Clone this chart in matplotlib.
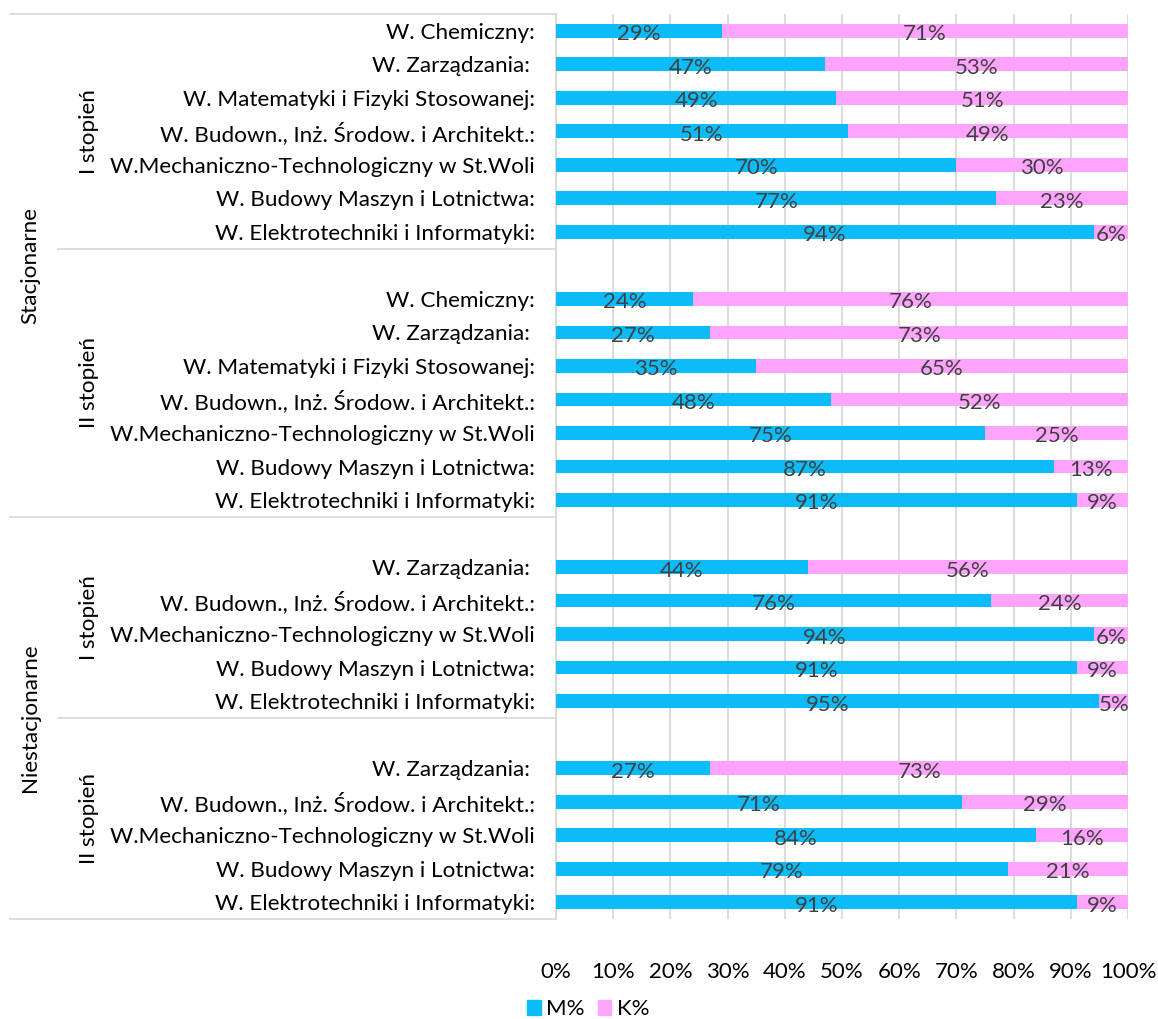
import matplotlib.pyplot as plt
import matplotlib.patches as mpatches
from matplotlib.transforms import blended_transform_factory
import numpy as np

plt.rcParams['font.family'] = ['Lato', 'DejaVu Sans']

# category labels per group (top to bottom), '' = empty slot in Excel
stac_1 = ["W. Chemiczny:", "W. Zarządzania: ", "W. Matematyki i Fizyki Stosowanej:",
          "W. Budown., Inż. Środow. i Architekt.:", "W.Mechaniczno-Technologiczny w St.Woli",
          "W. Budowy Maszyn i Lotnictwa:", "W. Elektrotechniki i Informatyki:"]
stac_2 = [""] + stac_1
nies_1 = ["", "W. Zarządzania: ", "W. Budown., Inż. Środow. i Architekt.:",
          "W.Mechaniczno-Technologiczny w St.Woli", "W. Budowy Maszyn i Lotnictwa:",
          "W. Elektrotechniki i Informatyki:"]
nies_2 = list(nies_1)

m_stac_1 = [29, 47, 49, 51, 70, 77, 94]
m_stac_2 = [None, 24, 27, 35, 48, 75, 87, 91]
m_nies_1 = [None, 44, 76, 94, 91, 95]
m_nies_2 = [None, 27, 71, 84, 79, 91]

groups_outer = ["Stacjonarne", "Niestacjonarne"]
groups_inner = ["I stopień", "II stopień", "I stopień", "II stopień"]

blue = "#0BBCF8"
pink = "#FFA4FD"
grid_c = "#D9D9D9"
lbl_c = "#404040"
fs = 16.2

labels = stac_1 + stac_2 + nies_1 + nies_2
m_vals = m_stac_1 + m_stac_2 + m_nies_1 + m_nies_2
sizes = [len(stac_1), len(stac_2), len(nies_1), len(nies_2)]

fig = plt.figure(figsize=(11.58, 10.19), dpi=100)
ax = fig.add_axes([556/1158, 1-919/1019, (1128-556)/1158, (919-14)/1019])

ypos = np.arange(len(labels))
mask = np.array([v is not None for v in m_vals])
m = np.array([v if v is not None else 0 for v in m_vals], dtype=float) / 100
k = 1 - m
bh = 0.41
bars_m = ax.barh(ypos[mask], m[mask], height=bh, color=blue, zorder=3)
bars_k = ax.barh(ypos[mask], k[mask], left=m[mask], height=bh, color=pink, zorder=3)

for bars, vals in ((bars_m, m[mask]), (bars_k, k[mask])):
    for r, v in zip(bars, vals):
        ax.annotate("%d%%" % round(v*100), (r.get_x()+r.get_width()/2, r.get_y()+r.get_height()/2),
                    xytext=(0, -2.5), textcoords='offset points', ha='center', va='center',
                    fontsize=16, color=lbl_c, zorder=4)

ax.set_ylim(len(labels)-0.5, -0.5)
ax.set_xlim(0, 1)
ax.set_yticks(ypos)
ax.set_yticklabels(labels, fontsize=fs, color='black')
ax.set_xticks(np.arange(0, 1.01, 0.1))
ax.set_xticklabels(["%d%%" % t for t in range(0, 101, 10)], fontsize=16, color='black')
ax.tick_params(axis='both', length=0)
ax.tick_params(axis='y', pad=15)
ax.tick_params(axis='x', pad=31)
ax.grid(axis='x', color=grid_c, linewidth=1.3, zorder=0)
for s in ['top', 'right', 'bottom']:
    ax.spines[s].set_visible(False)
ax.spines['left'].set_color(grid_c)
ax.spines['left'].set_linewidth(1.3)

# multi-level category separators and group labels
tr = blended_transform_factory(fig.transFigure, ax.transData)
x_ax = 556/1158
starts = np.concatenate([[0], np.cumsum(sizes)]) - 0.5
for i, b in enumerate(starts):
    x0 = 10/1158 if i % 2 == 0 else 58/1158
    ax.plot([x0, x_ax], [b, b], color=grid_c, lw=1.3, transform=tr, clip_on=False)
for i, name in enumerate(groups_inner):
    yc = (starts[i] + starts[i+1]) / 2
    ax.text(89/1158, yc, name, rotation=90, ha='center', va='center', fontsize=fs, transform=tr)
for i, name in enumerate(groups_outer):
    yc = (starts[2*i] + starts[2*i+2]) / 2
    ax.text(30/1158, yc, name, rotation=90, ha='center', va='center', fontsize=fs, transform=tr)

hm = mpatches.Patch(color=blue, label='M%')
hk = mpatches.Patch(color=pink, label='K%')
fig.legend(handles=[hm, hk], loc='lower center', bbox_to_anchor=(0.508, -0.020), ncol=2,
           frameon=False, fontsize=16, handlelength=0.6, handleheight=0.6,
           handletextpad=0.25, columnspacing=0.6)

fig.savefig('out.png', dpi=100)
